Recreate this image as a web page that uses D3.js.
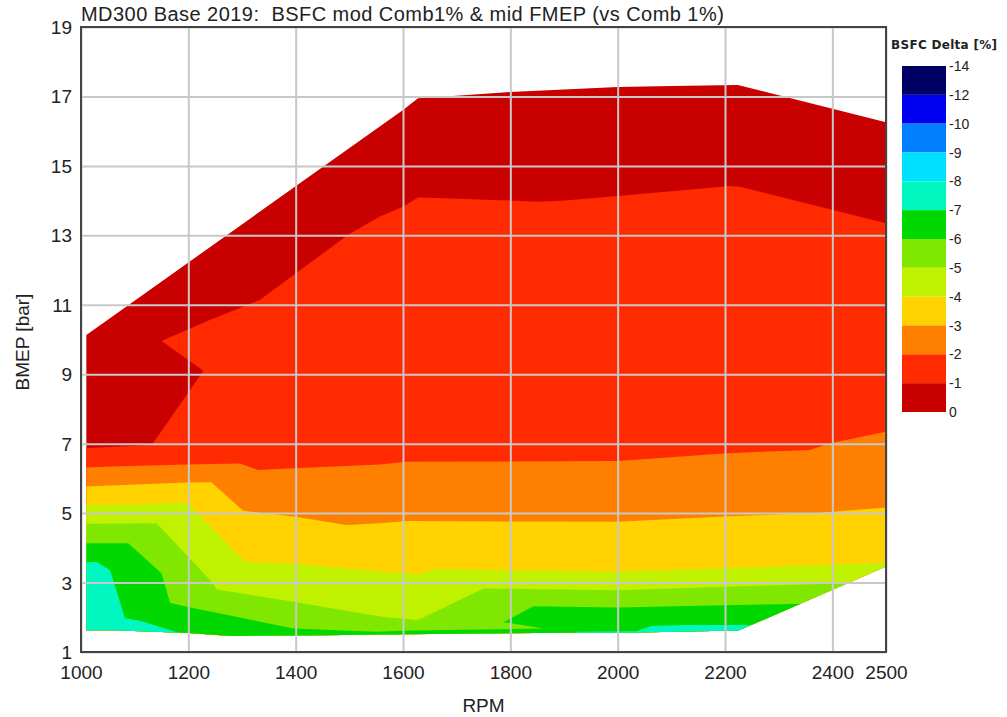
<!DOCTYPE html>
<html>
<head>
<meta charset="utf-8">
<script src="https://cdn.jsdelivr.net/npm/d3@7"></script>
<style>
  body { margin: 0; background: #fff; }
  text { font-family: "Liberation Sans", Arial, sans-serif; fill: #222; }
</style>
</head>
<body>
<div id="chart"></div>
<script>
'use strict';

// ---- data (rpm, bmep) ----
const xTicks = [1000, 1200, 1400, 1600, 1800, 2000, 2200, 2400, 2500]
const yTicks = [1, 3, 5, 7, 9, 11, 13, 15, 17, 19]

// legend levels, top to bottom
const legendLabels = ['-14', '-12', '-10', '-9', '-8', '-7', '-6', '-5', '-4', '-3', '-2', '-1', '0']
const legendColors = ['#000064', '#0000f0', '#0080ff', '#00e0ff', '#00f8c0', '#00d800',
  '#80e800', '#c0f200', '#ffd200', '#ff8000', '#ff2a00', '#c80000']

// outline of the measured area
const envelope = [[1010, 1.63], [1010, 10.13], [1600, 16.61], [1628, 16.95], [1700, 17.02],
  [1800, 17.13], [1900, 17.2], [2000, 17.27], [2100, 17.3], [2224, 17.33], [2500, 16.26],
  [2500, 3.46], [2260, 1.85], [2225, 1.62], [2035, 1.56], [1850, 1.55], [1650, 1.52],
  [1450, 1.48], [1280, 1.46], [1200, 1.55], [1060, 1.63]]

// contour lines, area below each line is lower than the level
const c1 = [[1000, 6.87], [1132, 6.96], [1228, 9.1], [1150, 9.96], [1240, 10.56], [1333, 11.14],
  [1500, 13.04], [1557, 13.54], [1600, 13.82], [1628, 14.09], [1678, 14.07], [1768, 14.02],
  [1855, 13.97], [1902, 14.0], [2000, 14.13], [2116, 14.29], [2209, 14.42], [2228, 14.4], [2500, 13.35]]
const c2 = [[1000, 6.31], [1057, 6.34], [1197, 6.4], [1296, 6.43], [1330, 6.24], [1396, 6.29],
  [1557, 6.4], [1607, 6.48], [2000, 6.5], [2197, 6.72], [2358, 6.82], [2396, 7.01], [2500, 7.34]]
const c3 = [[1000, 5.76], [1078, 5.81], [1197, 5.88], [1243, 5.89], [1302, 5.07], [1396, 4.9],
  [1495, 4.66], [1557, 4.71], [1607, 4.77], [2000, 4.75], [2197, 4.9], [2371, 5.0], [2500, 5.16]]
const c4 = [[1000, 5.23], [1100, 5.25], [1197, 5.3], [1306, 3.6], [1396, 3.55], [1557, 3.31],
  [1630, 3.24], [1660, 3.39], [2000, 3.31], [2197, 3.41], [2500, 3.57]]
const c5 = [[1000, 4.69], [1141, 4.71], [1246, 2.98], [1253, 2.8], [1396, 2.45], [1557, 2.02],
  [1628, 1.92], [1750, 2.83], [2000, 2.78], [2197, 2.88], [2427, 2.98], [2500, 3.0]]
const c6 = [[1000, 4.13], [1088, 4.13], [1150, 3.27], [1166, 2.42], [1197, 2.3], [1396, 1.68],
  [1551, 1.58], [1594, 1.61], [1712, 1.64], [1861, 1.68], [1787, 1.86], [1843, 2.32],
  [2000, 2.28], [2197, 2.35], [2330, 2.38], [2500, 2.5]]
const c7a = [[1000, 3.57], [1029, 3.6], [1054, 3.36], [1082, 1.97], [1110, 1.9], [1185, 1.54]]
const c7b = [[1924, 1.5], [1924, 1.58], [2035, 1.6], [2063, 1.75], [2128, 1.78], [2300, 1.78]]

const FLOOR = 0

const bands = [
  {color: legendColors[10], rings: [c1]},
  {color: legendColors[9], rings: [c2]},
  {color: legendColors[8], rings: [c3]},
  {color: legendColors[7], rings: [c4]},
  {color: legendColors[6], rings: [c5]},
  {color: legendColors[5], rings: [c6]},
  {color: legendColors[4], rings: [c7a, c7b]},
]

const width = 1007
const height = 717
const margin = {left: 81, right: 121, top: 27, bottom: 65}
const ctrWidth = width - margin.left - margin.right
const ctrHeight = height - margin.top - margin.bottom

const svg = d3.select('#chart').append('svg')
  .attr('width', width)
  .attr('height', height)

const xScale = d3.scaleLinear().domain([1000, 2500]).range([0, ctrWidth])
const yScale = d3.scaleLinear().domain([1, 19]).range([ctrHeight, 0])

const line = d3.line().x(d => xScale(d[0])).y(d => yScale(d[1]))

// close a contour down to the floor so it fills the area below it
const closeBelow = pts => [...pts, [pts[pts.length - 1][0], FLOOR], [pts[0][0], FLOOR]]

const g = svg.append('g').attr('transform', `translate(${margin.left},${margin.top})`)

g.append('clipPath').attr('id', 'env')
  .append('path').attr('d', line(envelope) + 'Z')

// outer area = 0 .. -1
g.append('path')
  .attr('d', line(envelope) + 'Z')
  .attr('fill', legendColors[11])

const bandG = g.append('g').attr('clip-path', 'url(#env)')
bands.forEach(b => {
  b.rings.forEach(r => {
    bandG.append('path')
      .attr('d', line(closeBelow(r)) + 'Z')
      .attr('fill', b.color)
  })
})

// grid
g.append('g')
  .attr('transform', `translate(0,${ctrHeight})`)
  .call(d3.axisBottom(xScale).tickValues(xTicks).tickSize(-ctrHeight).tickFormat(''))
  .call(a => a.select('.domain').remove())
  .selectAll('line').attr('stroke', '#c8c8c8').attr('stroke-width', 2)
g.append('g')
  .call(d3.axisLeft(yScale).tickValues(yTicks).tickSize(-ctrWidth).tickFormat(''))
  .call(a => a.select('.domain').remove())
  .selectAll('line').attr('stroke', '#c8c8c8').attr('stroke-width', 2)

// frame
g.append('rect')
  .attr('width', ctrWidth).attr('height', ctrHeight)
  .attr('fill', 'none').attr('stroke', '#444').attr('stroke-width', 2)

// tick labels
const xAxisG = g.append('g')
  .attr('transform', `translate(0,${ctrHeight})`)
  .call(d3.axisBottom(xScale).tickValues(xTicks).tickSize(0).tickPadding(0).tickFormat(d3.format('d')))
xAxisG.select('.domain').remove()
xAxisG.selectAll('text')
  .attr('y', 27).attr('dy', 0)
  .style('font-size', '19px').attr('fill', '#222')

const yAxisG = g.append('g')
  .call(d3.axisLeft(yScale).tickValues(yTicks).tickSize(0).tickPadding(9))
yAxisG.select('.domain').remove()
yAxisG.selectAll('text')
  .attr('dy', '0.34em')
  .style('font-size', '19px').attr('fill', '#222')

// titles
svg.append('text')
  .attr('x', 81).attr('y', 21)
  .style('font-size', '20px')
  .style('letter-spacing', '0.45px')
  .style('white-space', 'pre')
  .text('MD300 Base 2019:  BSFC mod Comb1% & mid FMEP (vs Comb 1%)')

svg.append('text')
  .attr('x', margin.left + ctrWidth / 2).attr('y', 712)
  .attr('text-anchor', 'middle')
  .style('font-size', '19px')
  .text('RPM')

svg.append('text')
  .attr('transform', 'translate(29,342) rotate(-90)')
  .attr('text-anchor', 'middle')
  .style('font-size', '19px')
  .text('BMEP [bar]')

// legend
const leg = {x: 902, y: 66, w: 44, h: 346}
const legScale = d3.scaleLinear().domain([0, legendColors.length]).range([leg.y, leg.y + leg.h])

svg.append('text')
  .attr('x', 891).attr('y', 49)
  .style('font-family', '"DejaVu Sans", Verdana, sans-serif')
  .style('font-size', '12px')
  .style('font-weight', 'bold')
  .style('letter-spacing', '0.3px')
  .text('BSFC Delta [%]')

svg.append('g').selectAll('rect')
  .data(legendColors)
  .join('rect')
  .attr('x', leg.x)
  .attr('y', (d, i) => legScale(i))
  .attr('width', leg.w)
  .attr('height', (d, i) => legScale(i + 1) - legScale(i))
  .attr('fill', d => d)

svg.append('g').selectAll('text')
  .data(legendLabels)
  .join('text')
  .attr('x', leg.x + leg.w + 3)
  .attr('y', (d, i) => legScale(i))
  .attr('dy', '0.36em')
  .style('font-size', '14px')
  .text(d => d)
</script>
</body>
</html>
